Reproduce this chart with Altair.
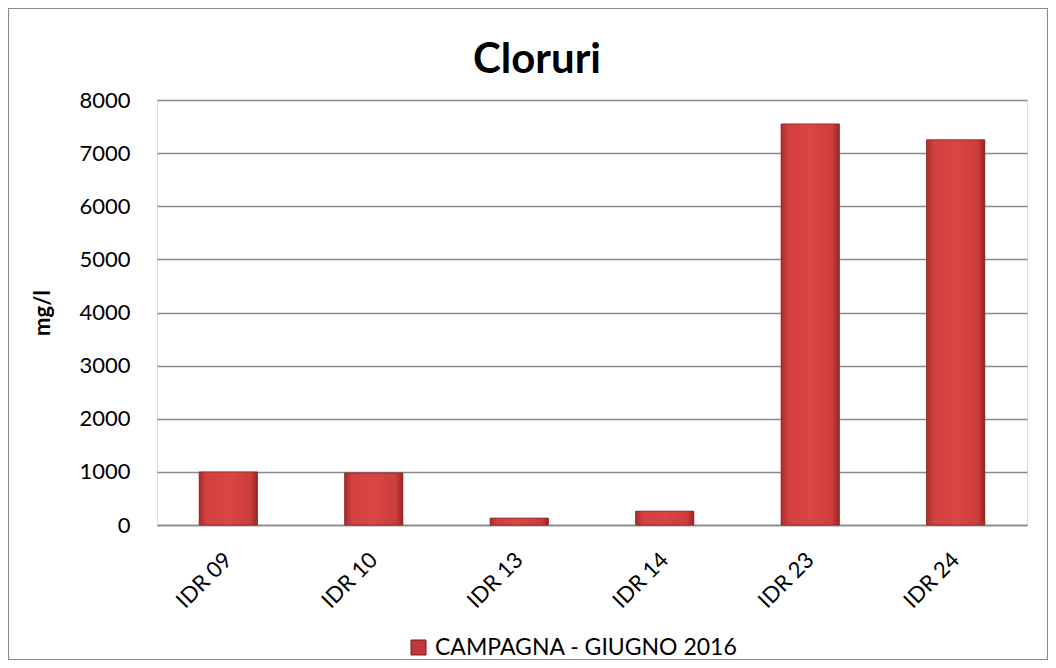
import altair as alt
import pandas as pd

categories = ["IDR 09", "IDR 10", "IDR 13", "IDR 14", "IDR 23", "IDR 24"]
values = [1000, 980, 130, 260, 7550, 7250]
series_name = "CAMPAGNA - GIUGNO 2016"
title_text = "Cloruri"

df = pd.DataFrame({"stazione": categories, "valore": values, "serie": [series_name] * len(categories)})

FONT = "Lato"
W, H = 870, 425

x_enc = alt.X("stazione:N", sort=categories, title=None,
              scale=alt.Scale(paddingInner=0.6, paddingOuter=0.29),
              axis=alt.Axis(labelAngle=-45, labelFontSize=22, labelFont=FONT, labelColor="#000000",
                            labelPadding=31, ticks=False, domainColor="#868686", domainWidth=1.5,
                            labelAlign="right", labelBaseline="middle"))
y_enc = alt.Y("valore:Q", title="mg/l",
              scale=alt.Scale(domain=[0, 8000], nice=False),
              axis=alt.Axis(values=list(range(0, 8001, 1000)), format="d", labelFontSize=22, labelFont=FONT,
                            labelColor="#000000", labelPadding=27, ticks=False, domain=False,
                            gridColor="#8a8a8a", gridWidth=1.3,
                            titleFont=FONT, titleFontSize=22, titleFontWeight="bold",
                            titleColor="#000000", titlePadding=24))

base = alt.Chart(df)

bars_legend = base.mark_bar().encode(
    x=x_enc, y=y_enc,
    color=alt.Color("serie:N", title=None,
                    scale=alt.Scale(range=["#C0393A"]),
                    legend=alt.Legend(orient="none", legendX=250, legendY=536, symbolType="square",
                                      symbolSize=225, symbolStrokeColor="#7a1a1a", symbolStrokeWidth=1,
                                      labelFont=FONT, labelFontSize=23, labelColor="#000000",
                                      labelOffset=5, labelLimit=0)),
)

bars_grad = base.mark_bar(
    stroke="#8a2424", strokeWidth=0.8,
    color=alt.Gradient(gradient="linear", x1=0, x2=1, y1=0, y2=0,
                       stops=[alt.GradientStop(color="#A82D2D", offset=0),
                              alt.GradientStop(color="#D2403F", offset=0.12),
                              alt.GradientStop(color="#D94644", offset=0.5),
                              alt.GradientStop(color="#CC3D3C", offset=0.88),
                              alt.GradientStop(color="#9A2626", offset=1)])
).encode(x=x_enc, y=y_enc)

title_mark = alt.Chart(pd.DataFrame({"t": [title_text]})).mark_text(
    font=FONT, fontSize=42, fontWeight="bold", color="#000000", align="center", baseline="alphabetic"
).encode(text="t:N", x=alt.value(537 - 157), y=alt.value(72 - 99.5))

frame = alt.Chart(pd.DataFrame({"k": [0]})).mark_rect(
    fill=None, stroke="#8c8c8c", strokeWidth=1.2
).encode(x=alt.value(-148.5), x2=alt.value(1040 - 149 - 0.5),
         y=alt.value(-91.5), y2=alt.value(652 - 92 - 0.5))

chart = alt.layer(bars_legend, bars_grad, title_mark, frame).properties(
    width=W, height=H,
    autosize=alt.AutoSizeParams(type="none"),
    padding={"left": 149, "top": 92, "right": 21, "bottom": 135},
).configure_view(stroke=None).configure(background="white")

chart.save("out.html", embed_options={"renderer": "svg", "actions": False})
